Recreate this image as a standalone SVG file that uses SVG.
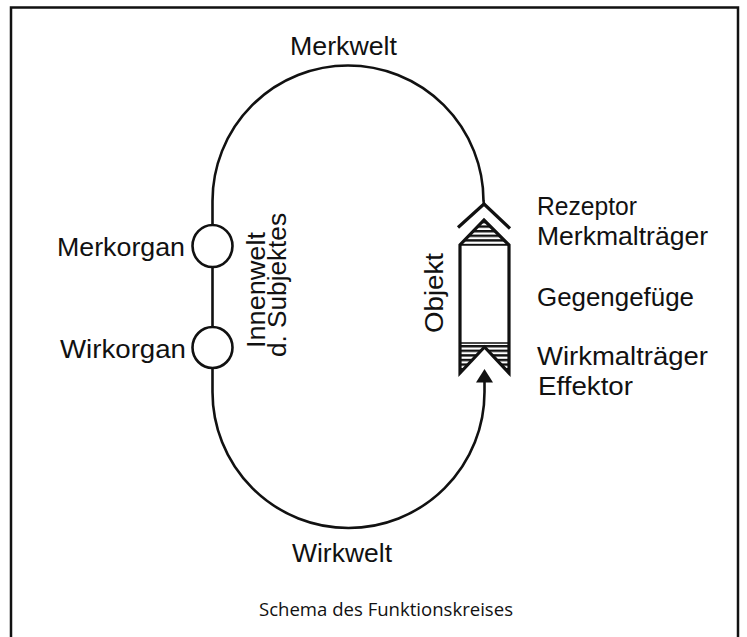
<svg xmlns="http://www.w3.org/2000/svg" width="747" height="637" viewBox="0 0 747 637">
<style>
.lbl{font-family:"Liberation Sans",Arial,sans-serif;font-size:25px;fill:#111}
.cap{font-family:"Open Sans","Noto Sans",sans-serif;font-size:18px;fill:#111}
.ln{fill:none;stroke:#111;stroke-width:2.6}
.thick{fill:none;stroke:#111;stroke-width:3.2;stroke-linejoin:miter}
</style>
<defs>
<pattern id="hatch" patternUnits="userSpaceOnUse" width="8" height="4.6">
<rect x="0" y="0" width="8" height="2.4" fill="#111"/>
</pattern>
</defs>
<rect x="0" y="0" width="747" height="637" fill="#fff"/>
<g id="frame">
<path d="M11 637 V7.5 H738 V637" fill="none" stroke="#111" stroke-width="2.5"/>
</g>
<g id="connectors">
<path class="ln" d="M212.5 225 V201 A135.5 135.5 0 0 1 483.5 201 L484 204"/>
<path class="ln" d="M212.5 267 V327"/>
<path class="ln" d="M212.5 368 V392 A136 136 0 0 0 484.5 392 V381"/>
<polygon points="476,382.5 493,382.5 484.5,369" fill="#111"/>
</g>
<g id="merkorgan">
<ellipse cx="212.5" cy="246" rx="20" ry="21" class="ln"/>
<text class="lbl" x="57" y="256" textLength="128" lengthAdjust="spacingAndGlyphs">Merkorgan</text>
</g>
<g id="wirkorgan">
<ellipse cx="212.5" cy="347.5" rx="20" ry="20.5" class="ln"/>
<text class="lbl" x="60" y="358" textLength="126" lengthAdjust="spacingAndGlyphs">Wirkorgan</text>
</g>
<g id="innenwelt">
<text class="lbl" transform="translate(265 348) rotate(-90)" textLength="116" lengthAdjust="spacingAndGlyphs">Innenwelt</text>
<text class="lbl" transform="translate(286 357) rotate(-90)" textLength="144" lengthAdjust="spacingAndGlyphs">d. Subjektes</text>
</g>
<g id="objekt">
<polyline class="thick" points="458,227.5 484,204 510,228.5"/>
<polygon points="484,220 509,245 460,245" fill="url(#hatch)"/>
<polygon points="460,343 509,343 509,373 484.5,347 460,373" fill="url(#hatch)"/>
<path class="thick" d="M460 373 V245 L484 220 L509 245 V373 L484.5 347 Z"/>
<path d="M460 245 H509 M460 343 H509" stroke="#111" stroke-width="1.6"/>
<text class="lbl" transform="translate(443 333) rotate(-90)" textLength="80" lengthAdjust="spacingAndGlyphs">Objekt</text>
</g>
<g id="labels">
<text class="lbl" x="290" y="55" textLength="107" lengthAdjust="spacingAndGlyphs">Merkwelt</text>
<text class="lbl" x="292" y="562" textLength="100" lengthAdjust="spacingAndGlyphs">Wirkwelt</text>
<text class="lbl" x="537" y="215" textLength="100" lengthAdjust="spacingAndGlyphs">Rezeptor</text>
<text class="lbl" x="537" y="245" textLength="171" lengthAdjust="spacingAndGlyphs">Merkmalträger</text>
<text class="lbl" x="537" y="306" textLength="157" lengthAdjust="spacingAndGlyphs">Gegengefüge</text>
<text class="lbl" x="537" y="365" textLength="171" lengthAdjust="spacingAndGlyphs">Wirkmalträger</text>
<text class="lbl" x="538" y="395" textLength="95" lengthAdjust="spacingAndGlyphs">Effektor</text>
<text class="cap" x="259" y="616" textLength="254" lengthAdjust="spacingAndGlyphs">Schema des Funktionskreises</text>
</g>
</svg>
